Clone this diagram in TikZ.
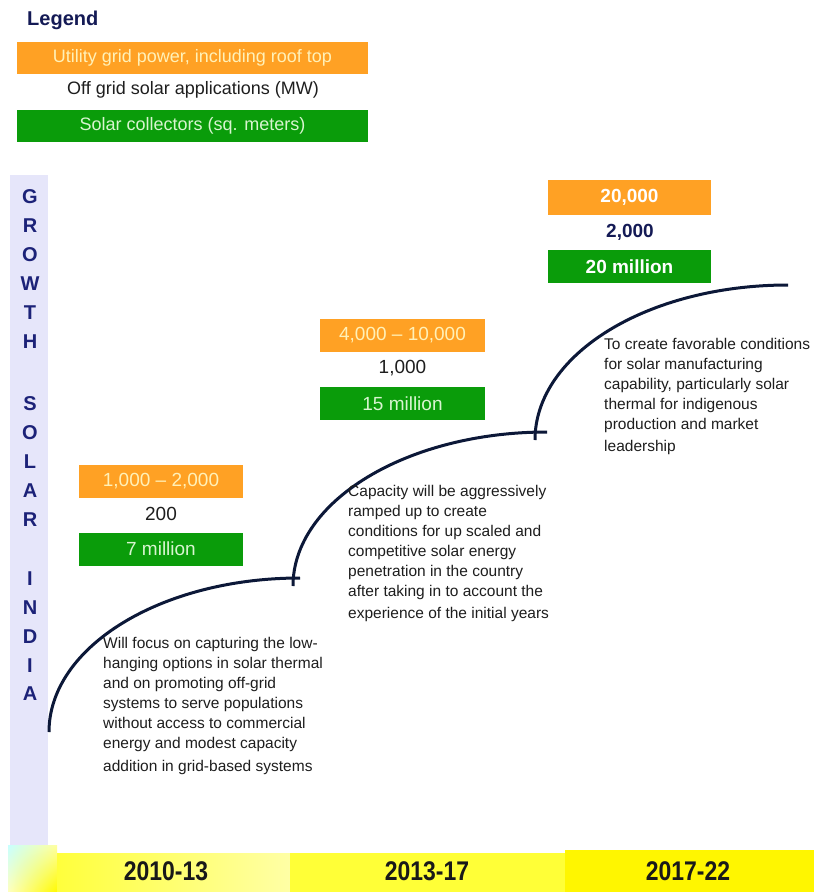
\documentclass[tikz,border=0pt]{standalone}
\usepackage{fontspec}
\setmainfont{Liberation Sans}
\usetikzlibrary{shadings}
\definecolor{orangeC}{HTML}{FFA124}
\definecolor{orangeT}{HTML}{FFF1B8}
\definecolor{greenC}{HTML}{0A9C0A}
\definecolor{greenT}{HTML}{D8F5D0}
\definecolor{descC}{HTML}{1E1E1E}
\definecolor{letterC}{HTML}{1C2278}
\definecolor{navyC}{HTML}{141A55}
\definecolor{curveC}{HTML}{0C1838}
\definecolor{barC}{HTML}{E6E6FA}
\definecolor{ulC}{HTML}{C8FFFF}
\definecolor{urC}{HTML}{FFFFA0}
\definecolor{llC}{HTML}{FFFFBE}
\definecolor{lrC}{HTML}{FFFA00}
\definecolor{y1L}{HTML}{FFFF3C}
\definecolor{y1R}{HTML}{FFFFA5}
\definecolor{y2C}{HTML}{FFFF37}
\definecolor{y3C}{HTML}{FFF600}
\begin{document}
\begin{tikzpicture}[x=1pt,y=-1pt,
  legbox/.style={minimum width=351pt, minimum height=32pt, inner sep=0pt, font=\fontsize{18}{20}\selectfont},
  valbox/.style={minimum width=164pt, minimum height=33pt, inner sep=0pt, font=\fontsize{19}{21}\selectfont},
  valtext/.style={inner sep=0pt, font=\fontsize{19}{21}\selectfont, text=descC},
  orangebox/.style={fill=orangeC, text=orangeT},
  greenbox/.style={fill=greenC, text=greenT},
  desc/.style={anchor=north west, align=left, inner sep=0pt, font=\fontsize{15.5}{20}\selectfont, text=descC},
  letter/.style={inner sep=0pt, font=\fontsize{20}{20}\selectfont\bfseries, text=letterC},
  yearlbl/.style={inner sep=0pt, font=\fontsize{27}{28}\selectfont\bfseries, text=black!90},
  curve/.style={line width=3pt, draw=curveC}]
\useasboundingbox (0,0) rectangle (814,892);
\fill[white] (0,0) rectangle (814,892);

% legend
\node[inner sep=0pt, anchor=west, font=\fontsize{20}{22}\selectfont\bfseries, text=navyC] (legend) at (27,20) {Legend};
\node[legbox, orangebox] (leg1) at (192.5,58) {Utility grid power, including roof top};
\node[inner sep=0pt, font=\fontsize{18}{20}\selectfont, text=descC] (leg2) at (193,90) {Off grid solar applications (MW)};
\node[legbox, greenbox] (leg3) at (192.5,126) {Solar collectors (sq. meters)};

% vertical bar
\fill[barC] (10,175) rectangle (48,845);
\foreach \l/\y/\n in {G/197/a1,R/226/a2,O/255/a3,W/284/a4,T/313/a5,H/342/a6,
  S/404/b1,O/433/b2,L/462/b3,A/491/b4,R/520/b5,
  I/579/c1,N/608/c2,D/637/c3,I/666/c4,A/694/c5}
  \node[letter] (\n) at (30,\y) {\l};

% bottom bar
\shade[upper left=ulC, upper right=urC, lower left=llC, lower right=lrC] (8,845) rectangle (57,892);
\shade[left color=y1L, right color=y1R] (57,853) rectangle (290,892);
\fill[y2C] (290,853) rectangle (565,892);
\fill[y3C] (565,850) rectangle (814,892);
\node[yearlbl] (y1) at (166,871) {\scalebox{0.85}[1]{2010-13}};
\node[yearlbl] (y2) at (427,871) {\scalebox{0.85}[1]{2013-17}};
\node[yearlbl] (y3) at (688,871) {\scalebox{0.85}[1]{2017-22}};

% value groups
\node[valbox, orangebox] (g1o) at (161,481.5) {1,000 – 2,000};
\node[valtext] (g1m) at (161,514) {200};
\node[valbox, greenbox] (g1g) at (161,549) {7 million};

\node[valbox, orangebox, minimum width=165pt] (g2o) at (402.5,335) {4,000 – 10,000};
\node[valtext] (g2m) at (402.5,368) {1,000};
\node[valbox, greenbox, minimum width=165pt] (g2g) at (402.5,403.5) {15 million};

\node[valbox, orangebox, minimum width=163pt, minimum height=35pt, text=white, font=\fontsize{19}{21}\selectfont\bfseries] (g3o) at (629.5,197.5) {20,000};
\node[valtext, text=navyC, font=\fontsize{19}{21}\selectfont\bfseries] (g3m) at (630,232) {2,000};
\node[valbox, greenbox, minimum width=163pt, text=white, font=\fontsize{19}{21}\selectfont\bfseries] (g3g) at (629.5,266.5) {20 million};

% curves
\coordinate (s1) at (49,732);  \coordinate (e1) at (300,578);
\coordinate (s2) at (293,586); \coordinate (e2) at (547,432);
\coordinate (s3) at (535,440); \coordinate (e3) at (788,285);
\draw[curve] (s1) .. controls (49,647) and (161,578) .. (e1);
\draw[curve] (s2) .. controls (293,501) and (407,432) .. (e2);
\draw[curve] (s3) .. controls (535,354) and (648,285) .. (e3);

% descriptions
\node[desc] (d1) at (103,637) {Will focus on capturing the low-\\hanging options in solar thermal\\and on promoting off-grid\\systems to serve populations\\without access to commercial\\energy and modest capacity\\[3pt]addition in grid-based systems};
\node[desc] (d2) at (348,485) {Capacity will be aggressively\\ramped up to create\\conditions for up scaled and\\competitive solar energy\\penetration in the country\\after taking in to account the\\[2pt]experience of the initial years};
\node[desc] (d3) at (604,338) {To create favorable conditions\\for solar manufacturing\\capability, particularly solar\\thermal for indigenous\\production and market\\[2pt]leadership};
\end{tikzpicture}
\end{document}
